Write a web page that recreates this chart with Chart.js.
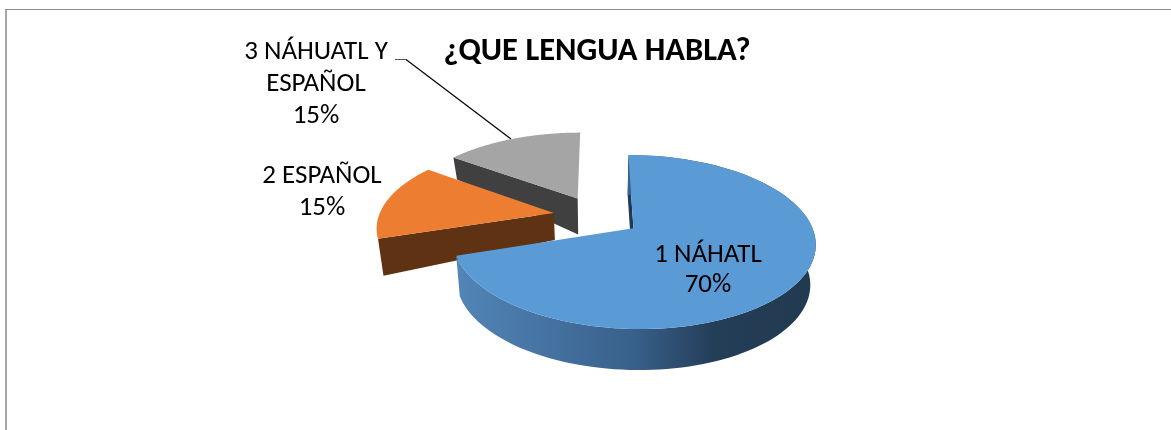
<!DOCTYPE html>
<html><head><meta charset="utf-8">
<style>html,body{margin:0;padding:0;background:#fff}
#wrap{position:relative;width:1171px;height:430px;overflow:hidden}
#frame{position:absolute;left:5px;top:9px;width:1166px;height:421px;border-left:2px solid #a6a6a6;border-top:1px solid #8c8c8c;box-sizing:border-box}
canvas{position:absolute;left:0;top:0}</style>
</head><body>
<div id="wrap"><div id="frame"></div><canvas id="c" width="1171" height="430"></canvas></div>
<script src="https://cdn.jsdelivr.net/npm/chart.js@4"></script>
<script>
const titleText = "¿QUE LENGUA HABLA?";
const categories = ["1 NÁHATL", "2 ESPAÑOL", "3 NÁHUATL Y ESPAÑOL"];
const values = [70, 15, 15];
const labelLines = [["1 NÁHATL"], ["2 ESPAÑOL"], ["3 NÁHUATL Y", "ESPAÑOL"]];
const topColors = ["#5b9bd5", "#ed7d31", "#a5a5a5"];
const faceColors = ["#1f3a56", "#5e3212", "#404040"];
const explode = [44, 44, 44];

// 3D view parameters
const TILT = 0.463, PERSP = 0.154, SHRINK = 0.025;
const depths = [[240, 40, 330, 41], [213, 27, 239, 37], [158, 22, 198, 36]];
const labelPos = [[708, 255.5, 30], [322, 176.5, 32], [316, 52.5, 32]];

function drawPie3D(chart) {
  const ctx = chart.ctx;
  const arcs = chart.getDatasetMeta(0).data;
  const order = [2, 1, 0];
  order.forEach(i => {
    const a = arcs[i];
    const p = a.getProps(['x', 'y', 'startAngle', 'endAngle', 'outerRadius']);
    const R = p.outerRadius, off = a.options.offset || 0;
    const mid = (p.startAngle + p.endAngle) / 2;
    const ox = Math.cos(mid) * off, oy = Math.sin(mid) * off;
    const proj = (dx, dy) => {
      const wx = dx + ox, wy = dy + oy;
      const f = 1 / (1 - PERSP * wy / R);
      return [p.x + wx * f, p.y + TILT * wy * f];
    };
    const [y0, d0, y1, d1] = depths[i];
    const low = q => {
      const t = Math.min(1, Math.max(0, (q[1] - y0) / (y1 - y0)));
      return [q[0] - (q[0] - p.x) * SHRINK, q[1] + d0 + (d1 - d0) * t];
    };
    const N = 120, rim = [];
    for (let k = 0; k <= N; k++) {
      const t = p.startAngle + (p.endAngle - p.startAngle) * k / N;
      rim.push(proj(Math.cos(t) * R, Math.sin(t) * R));
    }
    const apex = proj(0, 0);
    const poly = (pts, fill) => {
      ctx.beginPath();
      pts.forEach((q, n) => n ? ctx.lineTo(q[0], q[1]) : ctx.moveTo(q[0], q[1]));
      ctx.closePath();
      ctx.fillStyle = fill; ctx.fill();
    };
    // the cut face that looks at the viewer
    poly([apex, rim[0], low(rim[0]), low(apex)], faceColors[i]);
    // outer wall of the large slice
    if (i === 0) {
      const wall = ctx.createLinearGradient(458, 0, 812, 0);
      wall.addColorStop(0, "#5285b8");
      wall.addColorStop(0.5, "#38608a");
      wall.addColorStop(0.72, "#243e58");
      wall.addColorStop(1, "#223a50");
      poly(rim.concat(rim.map(low).reverse()), wall);
    }
    // top surface
    poly([apex].concat(rim), topColors[i]);
  });
}

const pie3d = {
  id: 'pie3d',
  beforeDatasetDraw(chart) { drawPie3D(chart); return false; },
  afterDraw(chart) {
    const ctx = chart.ctx;
    ctx.save();
    ctx.strokeStyle = "#555"; ctx.lineWidth = 1;
    ctx.beginPath(); ctx.moveTo(395, 59.5); ctx.lineTo(406, 59.5); ctx.stroke();
    ctx.strokeStyle = "#000";
    ctx.lineWidth = 1.2;
    ctx.beginPath(); ctx.moveTo(406, 59.5); ctx.lineTo(511, 139); ctx.stroke();
    ctx.fillStyle = "#000";
    ctx.font = "27px Carlito, Lato, sans-serif";
    ctx.textAlign = "center"; ctx.textBaseline = "middle";
    const total = values.reduce((s, v) => s + v, 0);
    labelLines.forEach((lines, i) => {
      const [x, y, lh] = labelPos[i];
      lines.concat([Math.round(values[i] / total * 100) + "%"]).forEach((t, n) => ctx.fillText(t, x, y + n * lh));
    });
    ctx.restore();
  }
};

new Chart(document.getElementById('c'), {
  type: 'pie',
  data: { labels: categories, datasets: [{ data: values, backgroundColor: topColors, offset: explode, borderWidth: 0, radius: 175 }] },
  options: {
    responsive: false, animation: false,
    layout: { padding: { left: 23, right: 0, top: 0, bottom: 70 } },
    plugins: {
      legend: { display: false }, tooltip: { enabled: false },
      title: { display: true, text: titleText, color: "#000", font: { family: "Carlito, Lato, sans-serif", size: 32.6, weight: 'bold' }, padding: { top: 32, bottom: 1 } }
    }
  },
  plugins: [pie3d]
});
</script>
</body></html>
